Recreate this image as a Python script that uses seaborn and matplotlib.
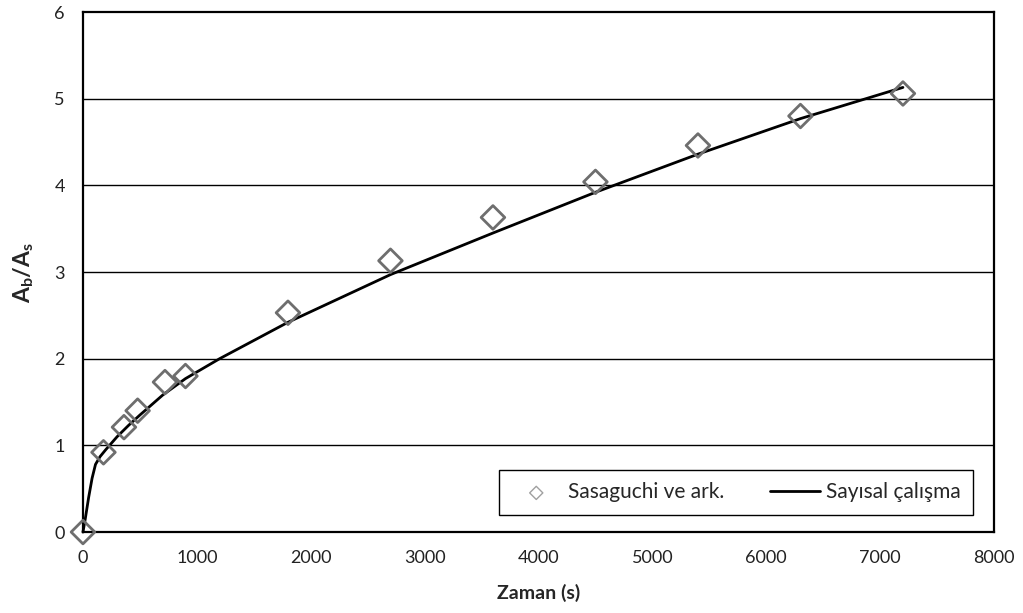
import matplotlib
matplotlib.use("Agg")
import matplotlib.pyplot as plt
import seaborn as sns
import pandas as pd

# Experimental data (Sasaguchi ve ark.)
exp_time = [0, 180, 360, 480, 720, 900, 1800, 2700, 3600, 4500, 5400, 6300, 7200]
exp_ratio = [0.0, 0.92, 1.21, 1.40, 1.73, 1.80, 2.53, 3.13, 3.63, 4.04, 4.46, 4.80, 5.06]

# Numerical results (Sayısal çalışma)
num_time = [0, 20, 50, 80, 110, 150, 200, 300, 400, 500, 700, 900, 1200,
            1800, 2700, 3600, 4500, 5400, 6300, 7200]
num_ratio = [0.0, 0.15, 0.40, 0.62, 0.78, 0.87, 0.95, 1.10, 1.23, 1.35, 1.58,
             1.77, 2.00, 2.42, 2.97, 3.45, 3.92, 4.36, 4.77, 5.13]

x_ticks = [0, 1000, 2000, 3000, 4000, 5000, 6000, 7000, 8000]
y_ticks = [0, 1, 2, 3, 4, 5, 6]

sns.set_theme(style="white")
plt.rcParams['font.family'] = ['Lato', 'DejaVu Sans']
plt.rcParams['mathtext.fontset'] = 'custom'
plt.rcParams['mathtext.rm'] = 'Lato'
plt.rcParams['mathtext.bf'] = 'Lato:bold'
plt.rcParams['mathtext.it'] = 'Lato:italic'

fig = plt.figure(figsize=(10.23, 6.13), dpi=100)
ax = fig.add_axes([0.0811, 0.1321, 0.8906, 0.8483])

df_exp = pd.DataFrame({"t": exp_time, "r": exp_ratio})
df_num = pd.DataFrame({"t": num_time, "r": num_ratio})

for yv in y_ticks[1:-1]:
    ax.axhline(yv, color='black', lw=1.0, zorder=1)

sns.lineplot(data=df_num, x="t", y="r", ax=ax, color='black', lw=2.0,
             label='Sayısal çalışma', zorder=3, clip_on=False)
sns.scatterplot(data=df_exp, x="t", y="r", ax=ax, marker='D', s=145,
                facecolor='none', edgecolor='#6e6e6e', linewidth=2.0,
                label='Sasaguchi ve ark.', zorder=4, clip_on=False)

ax.set_xlim(0, 8000)
ax.set_ylim(0, 6)
ax.set_xticks(x_ticks)
ax.set_yticks(y_ticks)
ax.tick_params(axis='both', which='major', direction='out', length=6, width=1,
               color='#888888', labelsize=13, labelcolor='#222222', pad=7)
for sp in ax.spines.values():
    sp.set_color('black')
    sp.set_linewidth(1.6)

ax.set_xlabel('Zaman (s)', fontsize=14, fontweight='bold', labelpad=13)
ax.set_ylabel(r'$\mathbf{A_b/A_s}$', fontsize=16.5, labelpad=13)

h, l = ax.get_legend_handles_labels()
order = [l.index('Sasaguchi ve ark.'), l.index('Sayısal çalışma')]
leg = ax.legend([h[i] for i in order], [l[i] for i in order], ncol=2,
                loc='lower right', bbox_to_anchor=(0.977, 0.033),
                borderaxespad=0, fontsize=15, frameon=True, fancybox=False,
                edgecolor='black', framealpha=1, borderpad=0.6,
                handlelength=2.4, handletextpad=0.3, columnspacing=2.2)
leg.get_frame().set_linewidth(1.0)
mh = leg.legend_handles[0]
mh.set_sizes([45])
mh.set_edgecolor('#a0a0a0')
mh.set_linewidth(1.0)

fig.savefig('out.png', dpi=100)
